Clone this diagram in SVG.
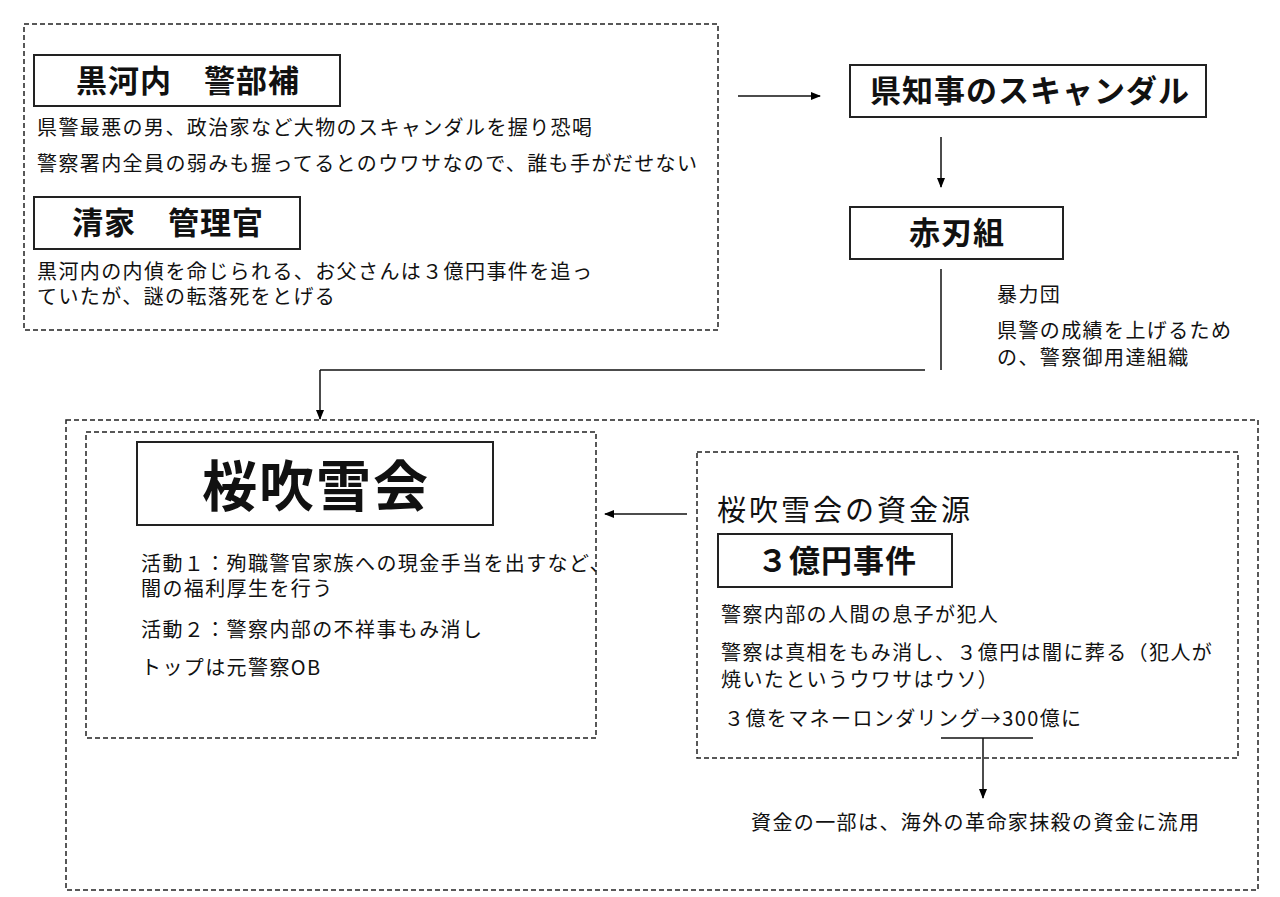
<svg xmlns="http://www.w3.org/2000/svg" width="1280" height="897" viewBox="0 0 1280 897">
<defs>
<marker id="ah" markerWidth="10" markerHeight="10" refX="9" refY="5" orient="auto" markerUnits="userSpaceOnUse">
<path d="M0,1 L10,5 L0,9 Z" fill="#000"/>
</marker>
<style>
text{font-family:"Noto Sans CJK JP","Liberation Sans",sans-serif;fill:#111}
.t{font-size:20px;letter-spacing:1.4px}
.h{font-size:31px;font-weight:bold;text-anchor:middle;letter-spacing:1px}
.box{fill:#fff;stroke:#222;stroke-width:2}
.dash{fill:none;stroke:#222;stroke-width:1.5;stroke-dasharray:5 3}
.ln{fill:none;stroke:#111;stroke-width:1.5}
</style>
</defs>
<rect width="1280" height="897" fill="#fff"/>

<g id="kurokouchi-group">
<rect class="dash" x="24" y="24" width="694" height="306"/>
<g id="kurokouchi">
<rect class="box" x="34" y="55" width="306" height="51"/>
<text class="h" x="188" y="92">黒河内　警部補</text>
<text class="t" x="37" y="135">県警最悪の男、政治家など大物のスキャンダルを握り恐喝</text>
<text class="t" x="37" y="171">警察署内全員の弱みも握ってるとのウワサなので、誰も手がだせない</text>
</g>
<g id="seike">
<rect class="box" x="34" y="197" width="266" height="52"/>
<text class="h" x="168" y="234">清家　管理官</text>
<text class="t" x="37" y="279">黒河内の内偵を命じられる、お父さんは３億円事件を追っ</text>
<text class="t" x="37" y="304">ていたが、謎の転落死をとげる</text>
</g>
</g>

<g id="scandal">
<rect class="box" x="850" y="65" width="356" height="52"/>
<text class="h" x="1030" y="102">県知事のスキャンダル</text>
</g>

<g id="akabagumi">
<rect class="box" x="850" y="207" width="213" height="52"/>
<text class="h" x="957" y="244">赤刃組</text>
<text class="t" x="997" y="302">暴力団</text>
<text class="t" x="997" y="338">県警の成績を上げるため</text>
<text class="t" x="997" y="365">の、警察御用達組織</text>
</g>

<g id="outer-bottom">
<rect class="dash" x="66" y="420" width="1192" height="470"/>
</g>

<g id="oubukikai">
<rect class="dash" x="86" y="432" width="510" height="306"/>
<rect class="box" x="137" y="442" width="356" height="83"/>
<text x="316" y="506" style="font-size:55px;font-weight:bold;text-anchor:middle;letter-spacing:2px">桜吹雪会</text>
<text class="t" x="141" y="571">活動１：殉職警官家族への現金手当を出すなど、</text>
<text class="t" x="141" y="596">闇の福利厚生を行う</text>
<text class="t" x="141" y="637">活動２：警察内部の不祥事もみ消し</text>
<text class="t" x="141" y="675">トップは元警察OB</text>
</g>

<g id="shikingen">
<rect class="dash" x="697" y="452" width="541" height="306"/>
<text x="717" y="521" style="font-size:29px;letter-spacing:3px">桜吹雪会の資金源</text>
<rect class="box" x="718" y="534" width="234" height="53"/>
<text class="h" x="837" y="572">３億円事件</text>
<text class="t" x="721" y="622">警察内部の人間の息子が犯人</text>
<text class="t" x="721" y="660">警察は真相をもみ消し、３億円は闇に葬る（犯人が</text>
<text class="t" x="721" y="687">焼いたというウワサはウソ）</text>
<text class="t" x="724" y="726">３億をマネーロンダリング→300億に</text>
</g>

<g id="ryuyou">
<text class="t" x="751" y="830">資金の一部は、海外の革命家抹殺の資金に流用</text>
</g>

<g id="connectors">
<line class="ln" x1="738" y1="96" x2="820" y2="96" marker-end="url(#ah)"/>
<line class="ln" x1="941" y1="137" x2="941" y2="187" marker-end="url(#ah)"/>
<line class="ln" x1="941" y1="269" x2="941" y2="370"/>
<line class="ln" x1="925" y1="370" x2="320" y2="370"/>
<line class="ln" x1="320" y1="370" x2="320" y2="419" marker-end="url(#ah)"/>
<line class="ln" x1="687" y1="514" x2="605" y2="514" marker-end="url(#ah)"/>
<line class="ln" x1="941" y1="738" x2="1033" y2="738"/>
<line class="ln" x1="983" y1="738" x2="983" y2="798" marker-end="url(#ah)"/>
</g>
</svg>
